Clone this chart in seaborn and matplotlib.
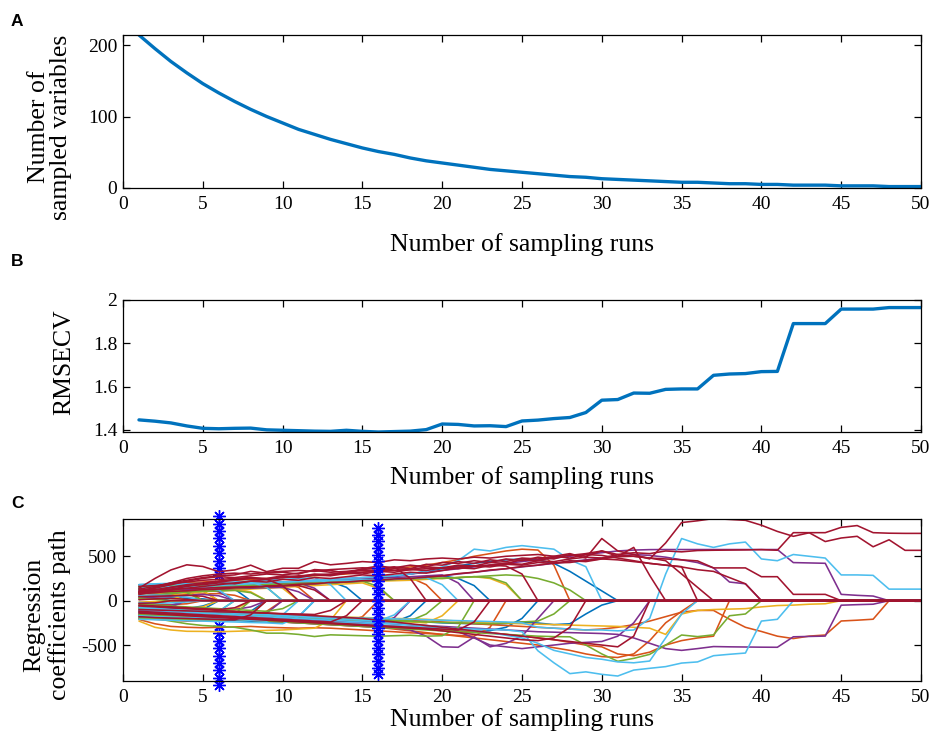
import matplotlib
matplotlib.use("Agg")
import matplotlib.pyplot as plt
import pandas as pd
import seaborn as sns

# ── data ──────────────────────────────────────────────────────
runs = list(range(1, 51))

n_sampled = [214, 195, 177, 161, 146, 133, 121, 110, 100, 91,
             82, 75, 68, 62, 56, 51, 47, 42, 38, 35,
             32, 29, 26, 24, 22, 20, 18, 16, 15, 13,
             12, 11, 10, 9, 8, 8, 7, 6, 6, 5,
             5, 4, 4, 4, 3, 3, 3, 2, 2, 2]

rmsecv = [1.446, 1.440, 1.432, 1.418, 1.407, 1.405, 1.407, 1.408, 1.400, 1.398,
          1.396, 1.394, 1.393, 1.398, 1.393, 1.390, 1.392, 1.394, 1.401, 1.427,
          1.425, 1.418, 1.419, 1.415, 1.441, 1.445, 1.452, 1.457, 1.480, 1.537,
          1.540, 1.570, 1.569, 1.587, 1.589, 1.589, 1.652, 1.658, 1.660, 1.669,
          1.670, 1.891, 1.891, 1.891, 1.958, 1.958, 1.958, 1.965, 1.965, 1.965]

# regression coefficient paths, one list per variable, values from run 1
# until the variable is dropped (the coefficient stays 0 afterwards)
blue_paths = [
    [40, 30],
    [75, 70, 72],
    [15, 25, 30, 28, 20],
    [-130, -140, -135, -130, -100],
    [-95, -100, -98, -90, -60],
    [180, 185, 190, 196, 200, 190, 130],
    [-165, -170, -172, -176, -180, -182, -170, -120],
    [-190, -196, -200, -204, -212, -215, -222, -230, -241, -250, -180],
    [100, 110, 116, 125, 140, 148, 155, 166, 180, 186, 195, 204, 215, 150],
    [-60, -82, -100, -118, -140, -150, -158, -172, -180, -186, -192, -200, -206, -212, -220, -231, -240, -170],
    [120, 131, 140, 152, 160, 166, 172, 180, 186, 190, 200, 211, 220, 226, 232, 240, 250, 262, 270, 280, 250, 170],
    [-170, -182, -190, -200, -210, -214, -220, -226, -231, -240, -246, -250, -262, -270, -280, -290, -302, -310,
     -322, -330, -340, -350, -338, -300, -200],
    [150, 160, 168, 176, 180, 186, 190, 196, 200, 206, 210, 216, 220, 232, 240, 252, 270, 300, 332, 360, 392, 420,
     442, 460, 470, 458, 420, 330, 220, 110],
    [-80, -91, -100, -112, -120, -131, -140, -150, -162, -170, -180, -192, -200, -210, -216, -220, -226, -232,
     -240, -250, -256, -260, -266, -258, -240, -252, -270, -260, -150, -50],
]

orange_paths = [
    [-60, -40],
    [130, 125, 128, 120],
    [-30, -40, -45, -35],
    [170, 160, 151, 140, 110],
    [55, 60, 66, 70, 75, 80, 60],
    [-200, -210, -221, -230, -225, -220, -210, -150],
    [-145, -150, -156, -160, -165, -170, -172, -175, -120],
    [90, 100, 111, 120, 140, 160, 178, 190, 200, 210, 150],
    [-110, -120, -135, -150, -160, -171, -180, -190, -200, -210, -216, -220, -231, -240, -180],
    [60, 80, 100, 120, 130, 141, 150, 160, 172, 180, 190, 200, 211, 220, 230, 241, 250, 260, 180],
    [-212, -260, -290, -300, -305, -300, -296, -290, -300, -305, -310, -305, -310, -320, -330, -340, -350, -362,
     -370, -380, -392, -400, -300],
    [170, 180, 190, 200, 210, 220, 230, 240, 250, 260, 270, 280, 290, 300, 320, 340, 362, 380, 400, 430, 460, 500,
     530, 560, 580, 570, 400],
    [-150, -160, -170, -180, -190, -200, -210, -220, -230, -240, -250, -260, -270, -280, -290, -300, -320, -340,
     -360, -380, -400, -420, -440, -460, -480, -500, -530, -560, -600, -630, -640, -600, -450, -250, -120],
    [-80, -90, -100, -110, -120, -130, -140, -150, -160, -170, -180, -190, -200, -205, -210, -215, -220, -225,
     -230, -240, -250, -260, -270, -280, -290, -300, -310, -320, -330, -320, -300, -270, -230, -180, -130, -110,
     -110, -209, -300, -347, -400, -427, -399, -387, -229, -220, -209],
    [-120, -130, -140, -150, -160, -175, -190, -200, -210, -220, -230, -240, -255, -270, -280, -290, -300, -310,
     -320, -330, -340, -350, -360, -380, -400, -420, -440, -470, -500, -520, -600, -620, -580, -500, -450, -420,
     -400],
]

yellow_paths = [
    [-15, -10],
    [90, 85, 60],
    [-90, -95, -100, -90, -70],
    [110, 115, 118, 120, 110],
    [-120, -125, -130, -135, -138, -140, -100],
    [70, 80, 90, 100, 110, 120, 130, 100],
    [160, 165, 170, 176, 180, 185, 190, 196, 200, 140],
    [-230, -300, -330, -345, -346, -350, -345, -340, -335, -330, -320, -310, -220],
    [20, 40, 60, 80, 100, 110, 120, 130, 140, 150, 160, 170, 180, 190, 200, 140],
    [-100, -110, -120, -130, -140, -150, -160, -170, -180, -190, -200, -210, -215, -220, -225, -230, -235, -240,
     -250, -170],
    [130, 140, 150, 160, 165, 170, 175, 180, 185, 190, 195, 200, 205, 210, 215, 220, 225, 230, 240, 250, 260, 270,
     250, 180],
    [-60, -70, -80, -90, -100, -110, -120, -130, -140, -150, -160, -170, -180, -185, -190, -195, -200, -205,
     -210, -220, -230, -240, -250, -255, -260, -265, -270, -275, -280, -285, -290, -300, -310, -380, -150, -110,
     -100, -95, -90, -70, -55, -50, -40, -35],
]

purple_paths = [
    [-50, -55, -52],
    [-110, -100, -70],
    [150, 155, 160, 158, 150, 100],
    [30, 40, 50, 60, 70, 55],
    [-75, -80, -85, -90, -95, -98, -100, -70],
    [-140, -150, -160, -170, -180, -190, -200, -210, -140],
    [100, 108, 115, 120, 126, 130, 136, 140, 146, 150, 100],
    [50, 60, 80, 100, 120, 140, 160, 170, 180, 190, 200, 140],
    [-120, -130, -140, -150, -160, -170, -180, -190, -200, -210, -220, -230, -240, -250, -260, -270, -190],
    [100, 110, 120, 130, 140, 150, 160, 170, 180, 190, 200, 210, 220, 230, 240, 250, 260, 270, 280, 290, 200],
    [-150, -160, -170, -180, -190, -200, -210, -220, -230, -240, -250, -260, -270, -280, -290, -300, -310, -330,
     -400, -520, -525, -410, -520, -480, -400, -200],
    [-100, -110, -120, -130, -140, -150, -160, -170, -180, -190, -200, -210, -220, -230, -240, -250, -260, -270,
     -285, -300, -350, -420, -500, -520, -540, -520, -500, -480, -470, -460, -400, -250],
    [80, 90, 100, 110, 120, 130, 140, 150, 160, 170, 180, 190, 200, 210, 220, 230, 240, 250, 260, 280, 300, 320,
     340, 360, 380, 400, 420, 440, 460, 480, 500, 520, 510, 490, 460, 429, 369, 210, 190],
    [120, 130, 140, 150, 160, 170, 180, 190, 200, 210, 220, 230, 240, 250, 260, 270, 280, 300, 320, 340, 360, 380,
     400, 420, 440, 460, 480, 500, 520, 540, 560, 570, 575, 576, 576, 576, 576, 576, 576, 576, 576, 429, 425, 421,
     71, 60, 52],
    [-100, -110, -120, -130, -140, -150, -160, -170, -180, -190, -200, -210, -220, -230, -240, -250, -260, -270,
     -280, -290, -300, -310, -320, -330, -340, -350, -355, -360, -365, -370, -380, -420, -480, -540, -560, -540,
     -517, -520, -522, -524, -525, -407, -403, -399, -51, -45, -40],
]

green_paths = [
    [20, 15],
    [150, 140, 130, 90],
    [-160, -170, -175, -180, -170, -120],
    [-200, -205, -210, -212, -216, -220, -150],
    [85, 90, 95, 100, 104, 110, 115, 90],
    [130, 140, 150, 160, 170, 180, 190, 200, 150],
    [-40, -50, -60, -70, -80, -90, -100, -110, -120, -90],
    [-180, -200, -230, -260, -280, -290, -300, -330, -366, -366, -380, -404, -385, -390, -395, -400, -395, -390,
     -400, -395, -300],
    [40, 60, 80, 100, 120, 130, 140, 150, 160, 170, 180, 190, 200, 210, 220, 160],
    [-80, -90, -100, -110, -120, -130, -140, -150, -160, -170, -180, -190, -200, -205, -210, -215, -220, -225, -150],
    [160, 165, 170, 175, 180, 185, 190, 195, 200, 205, 210, 215, 220, 225, 230, 235, 240, 245, 250, 255, 260, 270,
     260, 200],
    [140, 145, 150, 155, 160, 165, 170, 175, 180, 185, 190, 195, 200, 210, 220, 230, 240, 250, 260, 250, 260, 270,
     280, 290, 280, 250, 200, 120],
    [-150, -160, -170, -180, -190, -200, -210, -220, -230, -240, -250, -260, -270, -280, -290, -300, -310, -320,
     -330, -340, -350, -360, -370, -380, -390, -400, -405, -407, -500, -600, -683, -650, -605, -500, -387, -405,
     -385, -170, -150],
    [-90, -100, -110, -120, -130, -140, -150, -160, -170, -180, -190, -200, -210, -215, -220, -225, -230, -235,
     -240, -245, -250, -255, -260, -250, -240, -230, -150],
]

lightblue_paths = [
    [-20, -30, -25, -15],
    [60, 62, 58, 40],
    [-140, -145, -150, -152, -155, -120],
    [110, 120, 130, 140, 150, 120],
    [175, 180, 186, 190, 195, 200, 205, 210, 150],
    [-170, -180, -185, -190, -195, -200, -210, -220, -230, -160],
    [-210, -215, -220, -226, -230, -236, -240, -246, -250, -260, -180],
    [140, 150, 160, 170, 190, 200, 210, 220, 230, 240, 250, 260, 180],
    [-60, -80, -100, -110, -120, -130, -140, -150, -160, -170, -180, -190, -200, -210, -220, -230, -160],
    [180, 190, 195, 190, 185, 190, 195, 200, 205, 210, 215, 220, 225, 230, 235, 240, 245, 250, 260, 180],
    [120, 130, 140, 150, 160, 170, 180, 190, 200, 210, 220, 230, 240, 250, 260, 270, 280, 300, 330, 380, 450, 580,
     560, 600, 620, 600, 580, 460, 383],
    [-120, -130, -140, -150, -160, -170, -180, -190, -200, -210, -220, -230, -240, -250, -260, -270, -280, -290,
     -300, -310, -315, -320, -325, -330, -350, -565, -700, -822, -802, -830, -849, -782, -762, -743, -703, -690,
     -620, -604, -590, -230, -210],
    [-80, -90, -100, -110, -120, -130, -140, -150, -160, -170, -175, -180, -185, -190, -195, -200, -205, -210,
     -215, -220, -225, -230, -235, -240, -250, -300, -310, -320, -330, -330, -340, -330, -200, 300, 700, 640, 600,
     640, 660, 470, 450, 520, 500, 480, 290, 290, 285, 130, 130, 130],
    [-100, -110, -120, -130, -140, -150, -160, -170, -180, -190, -200, -210, -220, -230, -240, -250, -260, -270,
     -280, -300, -320, -340, -360, -390, -420, -480, -560, -600, -640, -660, -690, -700, -680, -420, -150],
]

darkred_paths = [
    [-30, -25],
    [10, 20, 25, 15],
    [45, 50, 55, 60, 50],
    [-50, -60, -70, -80, -90, -100, -80],
    [-180, -190, -196, -200, -206, -210, -216, -160],
    [160, 170, 190, 210, 230, 240, 250, 260, 240, 170],
    [120, 126, 130, 136, 140, 146, 150, 156, 160, 166, 170, 120],
    [-100, -105, -110, -115, -120, -126, -130, -136, -140, -146, -150, -156, -110],
    [-120, -130, -140, -150, -160, -170, -180, -190, -200, -210, -220, -230, -240, -170],
    [100, 150, 200, 250, 280, 300, 310, 300, 320, 330, 340, 330, 350, 360, 370, 360, 380, 250],
    [-130, -140, -150, -160, -170, -180, -190, -200, -210, -220, -230, -240, -250, -260, -270, -280, -290, -300,
     -310, -320, -330, -240],
    [90, 100, 120, 140, 160, 180, 200, 220, 240, 260, 280, 290, 300, 310, 320, 330, 340, 350, 360, 370, 380, 390,
     400, 390, 300],
    [-140, -150, -160, -170, -180, -190, -200, -210, -220, -230, -240, -250, -260, -270, -280, -290, -300, -310,
     -320, -340, -360, -380, -400, -420, -440, -450, -420, -300],
    [130, 160, 200, 230, 260, 280, 290, 330, 310, 320, 300, 350, 340, 310, 360, 390, 370, 400, 380, 430, 420, 450,
     430, 470, 450, 490, 470, 520, 500, 560, 500, 600, 284],
    [110, 140, 180, 220, 250, 270, 260, 280, 300, 290, 310, 340, 320, 330, 350, 340, 380, 360, 410, 400, 440, 420,
     460, 440, 480, 470, 500, 480, 520, 510, 480, 450, 420, 400, 383],
    [90, 120, 150, 180, 200, 220, 240, 260, 250, 280, 270, 300, 290, 320, 340, 330, 360, 350, 380, 370, 400, 390,
     430, 420, 460, 450, 490, 510, 530, 560, 520, 500, 480, 450, 300, 150],
    [70, 100, 130, 160, 190, 210, 230, 250, 240, 270, 260, 290, 280, 310, 300, 330, 320, 350, 340, 370, 360, 390,
     380, 410, 400, 430, 420, 450, 440, 470, 460, 440, 420, 400, 380, 349, 330, 260, 190],
    [80, 90, 105, 110, 125, 130, 145, 150, 165, 170, 185, 190, 205, 210, 225, 230, 245, 250, 265, 280, 305, 320,
     345, 360, 385, 400, 425, 430, 455, 470, 495, 500, 480, 470, 460, 448, 369, 369, 369, 270, 270, 71, 71, 71],
    [-60, -70, -80, -90, -100, -110, -120, -130, -140, -150, -160, -170, -180, -190, -200, -220, -240, -260, -280,
     -300, -320, -340, -360, -380, -400, -420, -440, -460, -480, -500, -520, -400],
    [100, 120, 150, 170, 180, 200, 190, 220, 210, 240, 230, 260, 250, 270, 290, 280, 300, 320, 310, 340, 370, 360,
     400, 420, 410, 450, 440, 470, 490, 480, 520, 540, 530, 560, 550, 565, 568, 570, 572, 575, 568, 766, 766, 766,
     826, 846, 766, 760, 758, 758],
    [140, 250, 346, 404, 385, 327, 346, 400, 327, 365, 365, 440, 404, 420, 440, 430, 460, 450, 470, 480, 470, 490,
     480, 500, 510, 520, 500, 530, 480, 700, 560, 520, 470, 650, 880, 900, 925, 915, 905, 850, 780, 725, 765, 666,
     706, 725, 607, 686, 567, 567],
]

# runs marked with asterisks and the marker heights
mark_runs = [6, 16]
mark_levels_a = [-950, -867, -784, -701, -618, -535, -452, -369, -286,
                 286, 369, 452, 535, 618, 701, 784, 867, 950]
mark_levels_b = [-830, -755, -680, -605, -530, -455, -380, -305, -230, -155, -80, -5,
                 70, 145, 220, 295, 370, 445, 520, 595, 670, 745, 820]

# ── style ─────────────────────────────────────────────────────
sns.set_style("ticks")
plt.rcParams["font.family"] = ["Liberation Serif", "DejaVu Serif"]
plt.rcParams["axes.unicode_minus"] = False
plt.rcParams["text.color"] = "black"
plt.rcParams["axes.labelcolor"] = "black"

line_blue = "#0072BD"
palette = {"blue": "#0072BD", "orange": "#D95319", "yellow": "#EDB120",
           "purple": "#7E2F8E", "green": "#77AC30", "lightblue": "#4DBEEE",
           "darkred": "#A2142F"}
group_order = ["blue", "orange", "yellow", "purple", "green", "lightblue", "darkred"]

fig = plt.figure(figsize=(9.33, 7.35), dpi=100)
W, H = 933, 735


def add_axes(top, bottom, left=123, right=921):
    return fig.add_axes([left / W, 1 - bottom / H, (right - left) / W, (bottom - top) / H])


def style_axes(ax):
    ax.tick_params(direction="in", top=True, right=True, length=5, width=0.9,
                   labelsize=14, colors="black")
    ax.tick_params(axis="x", pad=6)
    ax.tick_params(axis="y", pad=4)
    for s in ax.spines.values():
        s.set_linewidth(0.9)
        s.set_color("black")
    ax.set_xlim(0, 50)
    ax.set_xticks(range(0, 51, 5))


ax_a = add_axes(35, 188)
ax_b = add_axes(300, 432)
ax_c = add_axes(519, 681)

# ── A: number of sampled variables ───────────────────────────
sns.lineplot(x=runs, y=n_sampled, color=line_blue, lw=2.4, ax=ax_a)
style_axes(ax_a)
ax_a.set_ylim(0, 214)
ax_a.set_yticks([0, 100, 200])
ax_a.set_xlabel("Number of sampling runs", fontsize=18.5)
ax_a.set_ylabel("Number of\nsampled variables", fontsize=18.5, linespacing=1.0)
ax_a.xaxis.set_label_coords(0.5, -(245 - 188) / 153)
ax_a.xaxis.label.set_va("center")
ax_a.yaxis.set_label_coords((50 - 123) / 798, (188 - 127) / 153)
ax_a.yaxis.label.set_va("center")

# ── B: RMSECV ────────────────────────────────────────────────
sns.lineplot(x=runs, y=rmsecv, color=line_blue, lw=2.4, ax=ax_b)
style_axes(ax_b)
ax_b.set_ylim(1.39, 2.0)
ax_b.set_yticks([1.4, 1.6, 1.8, 2.0])
ax_b.set_yticklabels(["1.4", "1.6", "1.8", "2"])
ax_b.set_xlabel("Number of sampling runs", fontsize=18.5)
ax_b.set_ylabel("RMSECV", fontsize=18.5)
ax_b.xaxis.set_label_coords(0.5, -(478 - 432) / 132)
ax_b.xaxis.label.set_va("center")
ax_b.yaxis.set_label_coords((64 - 123) / 798, (432 - 362) / 132)
ax_b.yaxis.label.set_va("center")

# ── C: regression coefficient paths ──────────────────────────
rows = []
pid = 0
for name, paths in [("blue", blue_paths), ("orange", orange_paths), ("yellow", yellow_paths),
                    ("purple", purple_paths), ("green", green_paths),
                    ("lightblue", lightblue_paths), ("darkred", darkred_paths)]:
    for p in paths:
        vals = list(p) + [0] * (len(runs) - len(p))  # dropped variable -> coefficient 0
        for r, v in zip(runs, vals):
            rows.append((r, v, pid, name))
        pid += 1
coef_df = pd.DataFrame(rows, columns=["run", "coef", "path", "group"])

ax_c.plot([mark_runs[0]] * len(mark_levels_a), mark_levels_a, ls="none",
          marker=(8, 2, 0), ms=9, mew=1.0, color="#0000FF", clip_on=False, zorder=1)
sns.lineplot(data=coef_df, x="run", y="coef", hue="group", units="path",
             estimator=None, hue_order=group_order, palette=palette,
             lw=1.15, legend=False, ax=ax_c, zorder=2)
ax_c.plot([mark_runs[1]] * len(mark_levels_b), mark_levels_b, ls="none",
          marker=(8, 2, 0), ms=9, mew=1.0, color="#0000FF", clip_on=False, zorder=3)
style_axes(ax_c)
ax_c.set_ylim(-905, 920)
ax_c.set_yticks([-500, 0, 500])
ax_c.set_xlabel("Number of sampling runs", fontsize=18.5)
ax_c.set_ylabel("Regression\ncoefficients path", fontsize=18.5, linespacing=1.15)
ax_c.xaxis.set_label_coords(0.5, -(720 - 681) / 162)
ax_c.xaxis.label.set_va("center")
ax_c.yaxis.set_label_coords((47 - 123) / 798, (681 - 615) / 162)
ax_c.yaxis.label.set_va("center")

# panel letters
for letter, y in [("A", 21), ("B", 262), ("C", 503)]:
    fig.text(17 / W, 1 - y / H, letter, fontsize=12.5, fontweight="bold",
             family="Liberation Sans", ha="center", va="center")

fig.savefig("out.png", dpi=100)
